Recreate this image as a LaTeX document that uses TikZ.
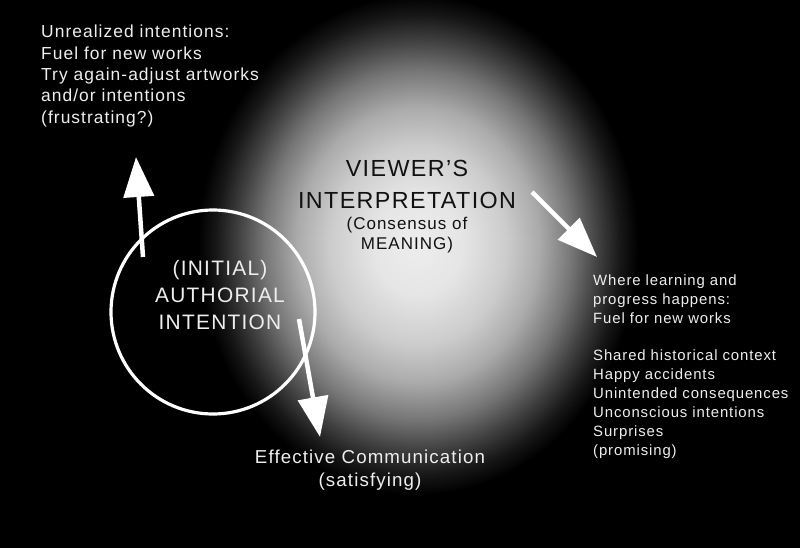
\documentclass[tikz,border=0pt]{standalone}
\usepackage{fontspec}
\usepackage{tikz}
\usetikzlibrary{positioning,arrows.meta}
\setmainfont{Liberation Sans}
\newfontfamily\trackfont{Liberation Sans}[LetterSpace=6]
\definecolor{GlowText}{HTML}{EEEEEE}
\definecolor{InkDark}{HTML}{111111}
\pgfdeclareradialshading{glow}{\pgfpoint{0bp}{0bp}}{color(0bp)=(white!93!black);
  color(5bp)=(white!90!black); color(10bp)=(white!80!black);
  color(13.75bp)=(white!67!black); color(17.5bp)=(white!46!black);
  color(20.5bp)=(white!25!black); color(23bp)=(white!9!black);
  color(25bp)=(black); color(50bp)=(black)}

\begin{document}
\begin{tikzpicture}[x=1pt,y=-1pt,
          every node/.style={inner sep=0pt,text=GlowText},
          ar/.style={draw=white,line width=4.5pt,-{Triangle[width=30pt,length=40pt]}}]
        \fill[black] (0,0) rectangle (800,548);
        \useasboundingbox (0,0) rectangle (800,548);
        \shade[shading=glow] (418,245) ellipse [x radius=220,y radius=250];
        \node[draw=white,line width=3.2pt,circle,minimum size=204pt] (ring) at (213,312) {};
        \node[align=center,font=\trackfont\fontsize{20.9}{27}\selectfont]
        (authorial) at (220,295) {(INITIAL)\\AUTHORIAL\\INTENTION};
        \node[align=center,text=InkDark,font=\trackfont\fontsize{23.3}{32}\selectfont]
        (viewer) at (407,184) {VIEWER’S\\INTERPRETATION};
        \node[align=center,text=InkDark,font=\trackfont\fontsize{17}{20}\selectfont]
        (consensus) at (407,235) {(Consensus of\\MEANING)};
        \node[anchor=west,align=left,font=\trackfont\fontsize{17.4}{21.3}\selectfont]
        (unrealized) at (41,76)
        {Unrealized intentions:\\
          Fuel for new works\\
          Try again-adjust artworks\\
          and/or intentions\\
          (frustrating?)};
        \node[anchor=west,align=left,font=\trackfont\fontsize{14.9}{19}\selectfont]
        (learning) at (593,367)
        {Where learning and\\
          progress happens:\\
          Fuel for new works\\[18pt]
          Shared historical context\\
          Happy accidents\\
          Unintended consequences\\
          Unconscious intentions\\
          Surprises\\
          (promising)};
        \node[align=center,font=\trackfont\fontsize{18.7}{23}\selectfont]
        (effective) at (370,470) {Effective Communication\\(satisfying)};
        \coordinate (upTail) at (143,257); \coordinate (upTip) at (136,157);
        \coordinate (downTail) at (299,319); \coordinate (downTip) at (320,437);
        \coordinate (rightTail) at (532,192); \coordinate (rightTip) at (597,257);
        \draw[ar](upTail)--(upTip); \draw[ar](downTail)--(downTip);
        \draw[ar](rightTail)--(rightTip);
      \end{tikzpicture}
\end{document}
